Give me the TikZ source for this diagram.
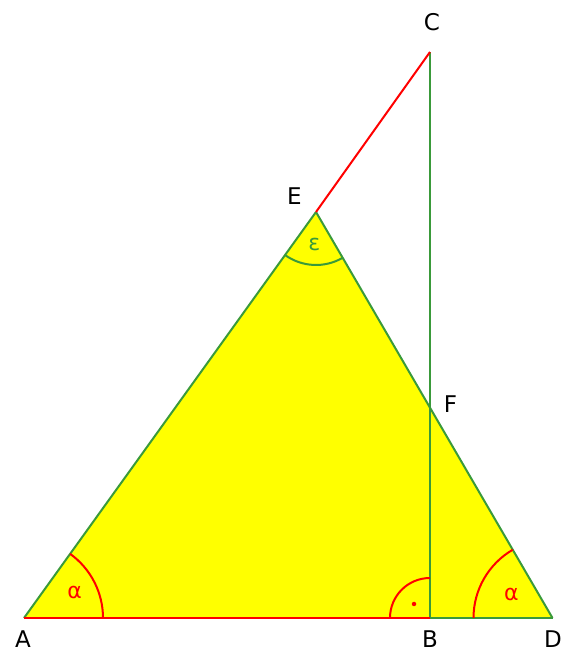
\documentclass[tikz,border=0pt]{standalone}
\usepackage{fontspec}
\setmainfont{DejaVu Sans}
\usetikzlibrary{angles}
\definecolor{figYellow}{HTML}{FFFF00}
\definecolor{figGreen}{HTML}{3A9A3A}
\definecolor{figRed}{HTML}{FF0000}

\begin{document}
\begin{tikzpicture}[
  x=1pt, y=1pt,
  edge/.style={draw=figGreen, line width=2pt},
  redge/.style={draw=figRed, line width=2pt},
  lbl/.style={font=\fontsize{23}{25}\selectfont, anchor=base, inner sep=0pt},
  ang/.style={draw=figRed, line width=2pt, angle radius=79pt,
              pic text options={text=figRed, font=\fontsize{22}{24}\selectfont}},
  dot/.style={circle, fill=figRed, inner sep=0pt, minimum size=4.5pt}
]
\useasboundingbox (0,0) rectangle (572,652);
\coordinate (A) at (24,34);
\coordinate (B) at (430,34);
\coordinate (D) at (552.5,34);
\coordinate (E) at (316,440);
\coordinate (C) at (430,600);
\coordinate (F) at (430,244);
\fill[figYellow] (A) -- (D) -- (E) -- cycle;
\draw[edge] (A) -- (E);
\draw[edge] (E) -- (D);
\draw[edge] (B) -- (D);
\draw[edge] (B) -- (C);
\draw[redge] (A) -- (B);
\draw[redge] (E) -- (C);
% angle marks
\pic[ang, pic text=α, angle eccentricity=0.72] {angle=B--A--E};
\pic[ang, pic text=α, angle eccentricity=0.6] {angle=E--D--A};
\pic[ang, angle radius=40pt] {angle=C--B--A};
\node[dot] (rdot) at (414,48) {};
\pic[ang, draw=figGreen, angle radius=53pt, pic text=ε, angle eccentricity=0.62,
     pic text options={text=figGreen, font=\fontsize{22}{24}\selectfont}] {angle=A--E--D};
% point labels
\node[lbl] (labA) at (23,5) {A};
\node[lbl] (labB) at (430,5) {B};
\node[lbl] (labD) at (553,5) {D};
\node[lbl] (labC) at (432,621) {C};
\node[lbl] (labE) at (294.5,447) {E};
\node[lbl] (labF) at (450.5,239) {F};
\end{tikzpicture}
\end{document}
